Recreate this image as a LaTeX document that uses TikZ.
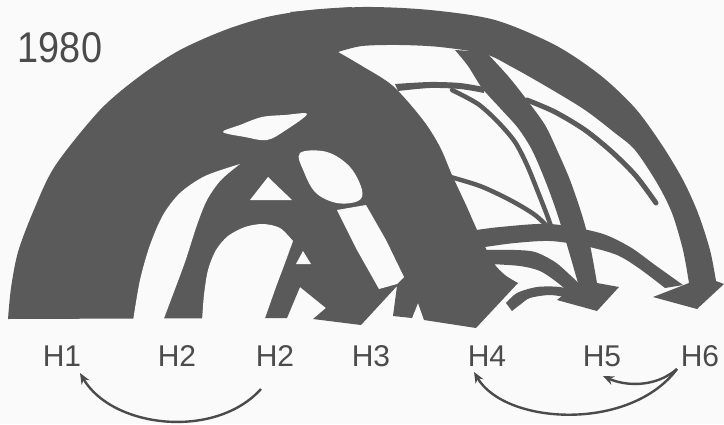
\documentclass[tikz,border=0pt]{standalone}
\usepackage{fontspec}
\setmainfont{Liberation Sans}
\newfontfamily\yearfont[FakeStretch=0.88]{Liberation Sans}
\usetikzlibrary{arrows.meta}
\definecolor{gfill}{RGB}{90,90,90}
\definecolor{bgc}{RGB}{250,250,250}
\definecolor{txt}{RGB}{75,75,75}
\begin{document}
\begin{tikzpicture}[x=1pt,y=-1pt,
  band/.style={fill=gfill},
  hole/.style={fill=bgc},
  strand/.style={draw=gfill, line cap=round, line width=4.5pt},
  lab/.style={text=txt, font=\fontsize{30}{32}\selectfont, anchor=base, inner sep=0pt},
  flowarrow/.style={draw=txt, line width=2.4pt, -{Stealth[length=11pt,width=9pt]}}]
\fill[bgc] (0,0) rectangle (724,424);
\useasboundingbox (0,0) rectangle (724,424);

% main mass (H1 -> H4 and everything under the big arch)
\fill[band] plot[smooth] coordinates {(8,319) (11,288) (18,252) (33,212) (55,166) (100,110) (140,76) (180,50) (225,30) (267,17) (310,10) (352,7)}
  -- (338,52)
  -- plot[smooth] coordinates {(338,52) (362,66) (393,86) (423,120) (440,147) (452,175) (466,205) (478,232) (493,262) (505,275) (518,283)}
  -- (476,328) -- (424,320) -- (418,303) -- (412,318) -- (393,316) -- (397,286) -- (361,325) -- (313,319) -- (326,308) -- (300,287) -- (287,318) -- cycle;

% white openings inside the mass
\fill[hole] plot[smooth] coordinates {(133,321) (140,280) (150,245) (163,215) (180,193) (205,176) (240,164)}
  -- plot[smooth] coordinates {(240,164) (221,180) (207,200) (197,225) (185,262) (172,297) (163,321)} -- cycle;
\fill[hole] plot[smooth] coordinates {(202,321) (204,295) (208,270) (216,250) (228,236) (245,227) (263,224) (280,228) (293,241)}
  -- plot[smooth] coordinates {(293,241) (285,263) (276,287) (264,321)} -- cycle;
\fill[hole] (268,177) -- (292,200) -- (250,200) -- cycle;
\fill[hole] (303,251) -- (311,264) -- (296,264) -- cycle;
\fill[hole] plot[smooth cycle, tension=0.55] coordinates {(223,132) (240,125) (262,117) (285,115) (307,114) (286,130) (267,140) (245,137)};
\fill[hole] plot[smooth cycle, tension=0.6] coordinates {(300,153) (327,152) (350,167) (362,190) (358,201) (337,203) (316,193) (304,172)};
\fill[hole] (337,210) -- (366,205) -- (386,240) -- (404,277) -- (397,284) -- (379,289) -- (357,250) -- cycle;

% outer band to H6
\fill[band] plot[smooth] coordinates {(290,12) (362,7) (430,10) (495,20) (555,45) (600,75) (635,108) (662,145) (683,180) (698,213) (710,250) (716,281)}
  -- (724,284) -- (697,309) -- (653,297) -- (689,283)
  -- plot[smooth] coordinates {(689,283) (683,250) (672,213) (657,183) (635,150) (615,133) (585,110) (549,88) (512,67) (485,54) (440,47) (400,45) (362,46) (338,52)} -- cycle;

% band to H5
\fill[band] plot[smooth] coordinates {(455,50) (468,66) (482,88) (500,108) (518,128) (532,150) (545,180) (556,210) (567,245) (578,283)}
  -- (557,300) -- (597,311) -- (619,287) -- (597,283)
  -- plot[smooth] coordinates {(597,283) (590,245) (582,215) (570,180) (557,150) (545,125) (527,100) (508,76) (486,52)} -- cycle;

% thin strands
\fill[band] plot[smooth] coordinates {(395,84) (430,82) (460,83) (484,87)} -- plot[smooth] coordinates {(484,93) (460,89) (430,88) (398,91)} -- cycle;
\draw[strand] plot[smooth] coordinates {(452,90) (478,104) (498,122) (515,142) (527,165) (538,192) (547,215) (553,232)};
\draw[strand] plot[smooth] coordinates {(447,176) (480,186) (510,200) (535,215) (553,232)};
\draw[strand, line width=5pt] plot[smooth] coordinates {(527,100) (555,112) (585,130) (612,152) (636,176) (656,203)};

% lower bands from the H4 mass
\fill[band] plot[smooth] coordinates {(470,231) (500,227) (550,224) (600,233) (630,247) (655,265) (683,285)}
  -- plot[smooth] coordinates {(665,288) (640,269) (617,255) (585,246) (550,241) (515,243) (485,247)} -- cycle;
\fill[band] plot[smooth] coordinates {(486,250) (515,250) (535,252) (555,262) (570,275) (588,292)}
  -- plot[smooth] coordinates {(574,297) (558,283) (540,271) (520,266) (490,264)} -- cycle;
\fill[band] plot[smooth] coordinates {(506,303) (517,293) (537,287) (560,287) (575,292)}
  -- plot[smooth] coordinates {(570,298) (550,295) (530,298) (521,304) (512,311)} -- cycle;

% labels
\node[text=txt, font=\yearfont\fontsize{43}{45}\selectfont, anchor=base, inner sep=0pt] (year) at (60,62) {1980};
\node[lab] (h1) at (62,366) {H1};
\node[lab] (h2a) at (177,366) {H2};
\node[lab] (h2b) at (275,366) {H2};
\node[lab] (h3) at (371,366) {H3};
\node[lab] (h4) at (487,366) {H4};
\node[lab] (h5) at (602,366) {H5};
\node[lab] (h6) at (700,366) {H6};

% return arrows under the labels
\coordinate (a1s) at (261,389);
\coordinate (a1e) at (80,373);
\coordinate (a2s) at (677,369);
\coordinate (a2e) at (474,372);
\coordinate (a3e) at (603,376);
\draw[flowarrow] (a1s) .. controls (215,440) and (112,428) .. (a1e);
\draw[flowarrow] (a2s) .. controls (630,432) and (505,425) .. (a2e);
\draw[flowarrow] (a2s) .. controls (655,388) and (625,386) .. (a3e);
\end{tikzpicture}
\end{document}
